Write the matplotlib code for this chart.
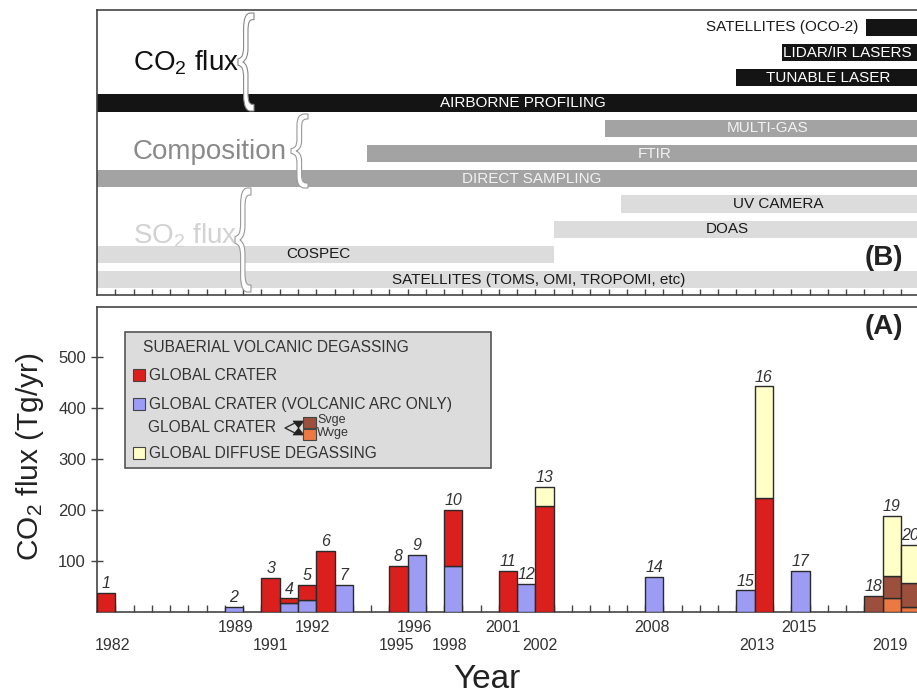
import matplotlib
matplotlib.use("Agg")
import matplotlib.pyplot as plt
import numpy as np
from matplotlib.patches import Rectangle, PathPatch, Polygon
from matplotlib.lines import Line2D
from matplotlib.textpath import TextPath
from matplotlib.font_manager import FontProperties
from matplotlib.transforms import Affine2D

plt.rcParams["font.family"] = ["Liberation Sans", "DejaVu Sans"]
plt.rcParams["mathtext.fontset"] = "custom"
plt.rcParams["mathtext.rm"] = "Liberation Sans"
plt.rcParams["mathtext.it"] = "Liberation Sans:italic"
plt.rcParams["mathtext.bf"] = "Liberation Sans:bold"

# ---------------- data: panel A (CO2 flux estimates) ----------------
estimate_ids = list(range(1, 21))
slot = np.array([0, 7, 9, 10, 11, 12, 13, 16, 17, 19, 22, 23, 24, 30, 35, 36, 38, 42, 43, 44])
crater = np.array([38, 0, 67, 10, 29, 120, 0, 91, 0, 110, 81, 0, 207, 0, 0, 223, 0, 0, 0, 0])
crater_arc = np.array([0, 10, 0, 17, 24, 0, 53, 0, 112, 90, 0, 55, 0, 69, 43, 0, 81, 0, 0, 0])
diffuse = np.array([0, 0, 0, 0, 0, 0, 0, 0, 0, 0, 0, 0, 39, 0, 0, 220, 0, 0, 118, 75])
svge = np.array([0, 0, 0, 0, 0, 0, 0, 0, 0, 0, 0, 0, 0, 0, 0, 0, 0, 32, 43, 47])
wvge = np.array([0, 0, 0, 0, 0, 0, 0, 0, 0, 0, 0, 0, 0, 0, 0, 0, 0, 0, 28, 10])

year_labels_top = ["1989", "1992", "1996", "2001", "2008", "2015"]
year_pos_top = [7.6, 11.77, 17.4, 22.2, 30.4, 38.4]
year_labels_bot = ["1982", "1991", "1995", "1998", "2002", "2013", "2019"]
year_pos_bot = [0.85, 9.47, 16.4, 19.3, 24.25, 36.1, 43.4]

# ---------------- data: panel B (measurement techniques) ----------------
tech_names = ["SATELLITES (OCO-2)", "LIDAR/IR LASERS", "TUNABLE LASER", "AIRBORNE PROFILING",
              "MULTI-GAS", "FTIR", "DIRECT SAMPLING",
              "UV CAMERA", "DOAS", "COSPEC", "SATELLITES (TOMS, OMI, TROPOMI, etc)"]
tech_start = [42.1, 37.5, 35.0, 0, 27.8, 14.8, 0, 28.7, 25.0, 0, 0]
tech_end = [46, 46, 46, 46, 46, 46, 46, 46, 46, 25.0, 46]
tech_group = ["co2", "co2", "co2", "co2", "comp", "comp", "comp", "so2", "so2", "so2", "so2"]

# ---------------- styling ----------------
W, H = 917, 696
PX = 18.27            # pixels per slot
XMAX = 46

C_RED = "#db1f1c"
C_BLUE = "#9d9cf5"
C_YEL = "#ffffc8"
C_BRN = "#9b4f3c"
C_ORG = "#ec7842"
EDGE = "#2a2a2a"
SPINE = "#444444"

group_fill = {"co2": "#141414", "comp": "#a3a3a3", "so2": "#dcdcdc"}
group_text = {"co2": "white", "comp": "#f2f2f2", "so2": "#1a1a1a"}
tech_label_x = [41.65, 41.05, 40.0, 23.3, 36.7, 30.5, 23.8, 37.3, 34.5, 12.1, 24.2]


def fx(x):
    return x / W


def fy(y):
    return 1 - y / H


fig = plt.figure(figsize=(W / 100, H / 100), dpi=100)

ax = fig.add_axes([fx(97), fy(612), XMAX * PX / W, (612 - 307) / H])
axb = fig.add_axes([fx(97), fy(295), XMAX * PX / W, (295 - 10) / H])

# ---------------- panel A ----------------
bottom = np.zeros(len(slot))
for vals, col in [(wvge, C_ORG), (svge, C_BRN), (crater_arc, C_BLUE), (crater, C_RED), (diffuse, C_YEL)]:
    m = vals > 0
    ax.bar(slot[m], vals[m], width=1, bottom=bottom[m], align="edge",
           color=col, edgecolor=EDGE, linewidth=1.0, zorder=3)
    bottom = bottom + vals

for i, tot in enumerate(bottom):
    ax.text(slot[i] + 0.5, tot + 3, str(estimate_ids[i]), ha="center", va="bottom",
            fontsize=11.5, style="italic", color="#333333", zorder=4)

ax.set_xlim(0, XMAX)
ax.set_ylim(0, 598)
ax.set_xticks(np.arange(1, XMAX))
ax.set_xticklabels([])
ax.tick_params(axis="x", direction="in", length=5, width=1, color=SPINE)
ax.set_yticks([100, 200, 300, 400, 500])
ax.tick_params(axis="y", direction="inout", length=8, width=1, color=SPINE,
               labelsize=12, labelcolor="#333333", pad=4)
for s in ax.spines.values():
    s.set_color(SPINE)
    s.set_linewidth(1.2)

xt = ax.get_xaxis_transform()
for lab, p in zip(year_labels_top, year_pos_top):
    ax.text(p, -15 / 305, lab, transform=xt, ha="center", va="center",
            fontsize=11.5, color="#333333")
for lab, p in zip(year_labels_bot, year_pos_bot):
    ax.text(p, -33 / 305, lab, transform=xt, ha="center", va="center",
            fontsize=11.5, color="#333333")

fig.text(fx(30), fy(457), "CO$_\\mathrm{2}$ flux (Tg/yr)", rotation=90,
         ha="center", va="center", fontsize=21.5, color="#222222")
fig.text(fx(487), fy(679), "Year", ha="center", va="center", fontsize=24, color="#222222")
fig.text(fx(884), fy(327), "(A)", ha="center", va="center", fontsize=20,
         fontweight="bold", color="#222222")

# legend box
fig.add_artist(Rectangle((fx(125), fy(468)), (491 - 125) / W, (468 - 332) / H,
                         transform=fig.transFigure, facecolor="#dcdcdc",
                         edgecolor="#555555", linewidth=1.2, zorder=6))
LEG_FS = 11.2
fig.text(fx(143), fy(347), "SUBAERIAL VOLCANIC DEGASSING", ha="left", va="center",
         fontsize=LEG_FS, color="#333333", zorder=7)
legend_rows = [(375, C_RED, "GLOBAL CRATER"),
               (404, C_BLUE, "GLOBAL CRATER (VOLCANIC ARC ONLY)"),
               (453, C_YEL, "GLOBAL DIFFUSE DEGASSING")]
for yc, col, lab in legend_rows:
    fig.add_artist(Rectangle((fx(133), fy(yc + 6)), 12 / W, 12 / H, transform=fig.transFigure,
                             facecolor=col, edgecolor="#444444", linewidth=0.8, zorder=7))
    fig.text(fx(149), fy(yc), lab, ha="left", va="center", fontsize=LEG_FS,
             color="#333333", zorder=7)
fig.text(fx(148), fy(428), "GLOBAL CRATER", ha="left", va="center", fontsize=LEG_FS,
         color="#333333", zorder=7)
fig.add_artist(Line2D([fx(297), fx(285), fx(297)], [fy(422), fy(428), fy(434)],
                      transform=fig.transFigure, color="#333333", linewidth=1.0, zorder=7))
fig.add_artist(Polygon([(fx(293), fy(421)), (fx(304), fy(421)), (fx(298.5), fy(428)),
                        (fx(304), fy(435)), (fx(293), fy(435)), (fx(298.5), fy(428))],
                       closed=True, transform=fig.transFigure, facecolor="#222222",
                       edgecolor="#222222", linewidth=0.5, zorder=7))
fig.add_artist(Rectangle((fx(303), fy(428)), 13 / W, 11 / H, transform=fig.transFigure,
                         facecolor=C_BRN, edgecolor="#444444", linewidth=0.8, zorder=7))
fig.add_artist(Rectangle((fx(303), fy(440)), 13 / W, 11 / H, transform=fig.transFigure,
                         facecolor=C_ORG, edgecolor="#444444", linewidth=0.8, zorder=7))
fig.text(fx(317), fy(420), "Svge", ha="left", va="center", fontsize=9, color="#333333", zorder=7)
fig.text(fx(317), fy(433), "Wvge", ha="left", va="center", fontsize=9, color="#333333", zorder=7)

# ---------------- panel B ----------------
rows = np.arange(len(tech_names))
for r, name, s, e, g, lx in zip(rows, tech_names, tech_start, tech_end, tech_group, tech_label_x):
    axb.barh(r, e - s, left=s, height=0.68, color=group_fill[g], edgecolor="none", zorder=2)
    if name == "SATELLITES (OCO-2)":
        axb.text(lx, r, name, ha="right", va="center", fontsize=11, color="#1a1a1a", zorder=3)
    else:
        axb.text(lx, r, name, ha="center", va="center", fontsize=11,
                 color=group_text[g], zorder=3)

axb.set_xlim(0, XMAX)
axb.set_ylim(10.61, -0.69)
axb.set_yticks([])
axb.set_xticks(np.arange(1, XMAX))
axb.set_xticklabels([])
axb.tick_params(axis="x", direction="in", length=4, width=1, color=SPINE)
for s in axb.spines.values():
    s.set_color(SPINE)
    s.set_linewidth(1.2)

fig.text(fx(884), fy(258), "(B)", ha="center", va="center", fontsize=20,
         fontweight="bold", color="#222222", zorder=8)

fig.text(fx(133), fy(63), "CO$_\\mathrm{2}$ flux", ha="left", va="center", fontsize=20,
         color="#111111", zorder=8)
fig.text(fx(133), fy(152), "Composition", ha="left", va="center", fontsize=20,
         color="#8a8a8a", zorder=8)
fig.text(fx(133), fy(236), "SO$_\\mathrm{2}$ flux", ha="left", va="center", fontsize=20,
         color="#d2d2d2", zorder=8)


def brace(x0, y0, x1, y1, edge):
    tp = TextPath((0, 0), "{", size=100, prop=FontProperties(family="Liberation Sans"))
    ext = tp.get_extents()
    sx = (x1 - x0) / ext.width
    sy = (y1 - y0) / ext.height
    tr = (Affine2D().translate(-ext.x0, -ext.y0).scale(sx / W, sy / H)
          .translate(fx(x0), fy(y1)) + fig.transFigure)
    fig.add_artist(PathPatch(tp, transform=tr, facecolor="white", edgecolor=edge,
                             linewidth=0.8, zorder=9))


brace(238, 13, 254, 111, "#888888")
brace(291, 114, 308, 188, "#999999")
brace(235, 188, 251, 292, "#999999")

fig.savefig("out.png", dpi=100)
